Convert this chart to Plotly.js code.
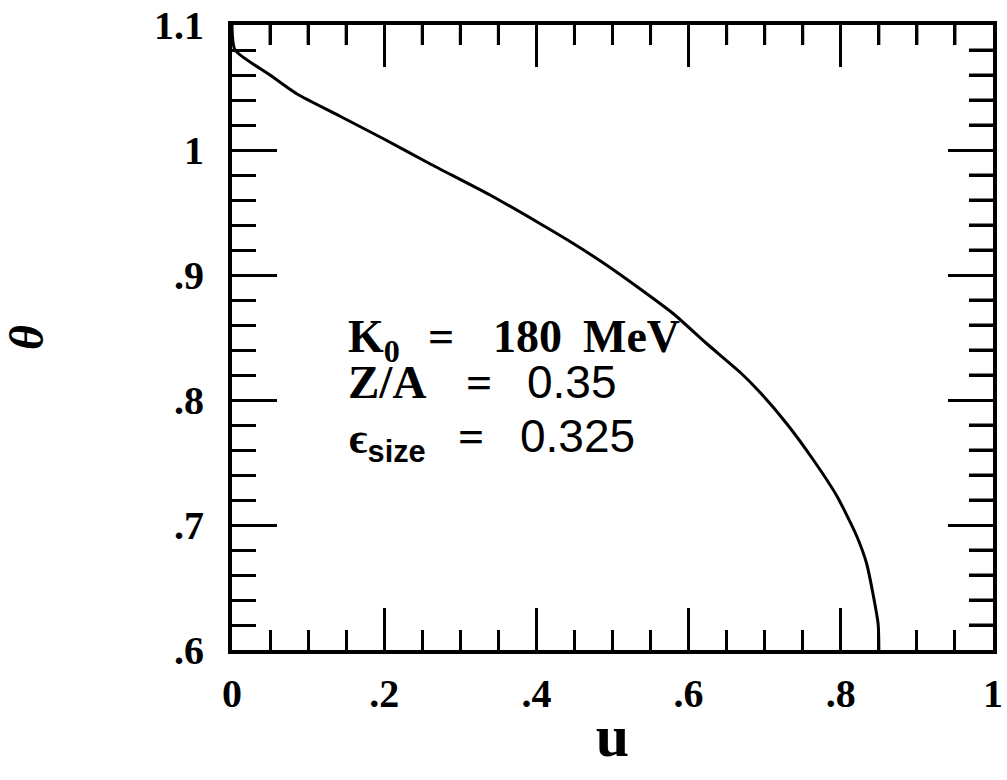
<!DOCTYPE html>
<html>
<head>
<meta charset="utf-8">
<script src="https://cdn.plot.ly/plotly-3.0.1.min.js"></script>
<style>
  html, body { margin: 0; padding: 0; background: #fff; }
  #chart { width: 1007px; height: 780px; }
</style>
</head>
<body>
<div id="chart"></div>
<script>
// Curve theta(u)
const u = [0, 0.004, 0.05, 0.085, 0.142, 0.199, 0.26, 0.339, 0.405, 0.449,
           0.492, 0.536, 0.58, 0.624, 0.668, 0.694, 0.729, 0.764, 0.795,
           0.821, 0.834, 0.849, 0.850];
const theta = [1.1, 1.08, 1.06, 1.045, 1.027, 1.009, 0.989, 0.964, 0.941, 0.925,
               0.908, 0.889, 0.869, 0.845, 0.822, 0.806, 0.781, 0.752, 0.723,
               0.691, 0.669, 0.621, 0.6];

// Tick label text
const uTickText = {'0.2': '.2', '0.4': '.4', '0.6': '.6', '0.8': '.8'};
const thetaTickText = {'0.6': '.6', '0.7': '.7', '0.8': '.8', '0.9': '.9'};

// Parameter labels
const paramLabels = [
  ['K<sub>0</sub>', '=', '180', 'MeV'],
  ['Z/A', '=', '0.35'],
  ['<b>\u03f5</b><sub><span style="font-family:Liberation Sans, Arial, sans-serif;font-weight:bold">size</span></sub>', '=', '0.325']
];

const serif = 'Liberation Serif, Times New Roman, serif';
const sans = 'Liberation Sans, Arial, sans-serif';

// Frame in pixels and pixel-to-data helpers for placing text inside it
const L = 232, R = 993, T = 25, B = 650;
const px2u = px => (px - L) / (R - L);
const py2t = py => 1.1 - 0.5 * (py - T) / (B - T);

function label(text, px, py, family, size, weight) {
  return {
    text: text, x: px2u(px), y: py2t(py), xref: 'x', yref: 'y',
    xanchor: 'left', yanchor: 'middle', showarrow: false,
    font: {family: family, size: size, color: '#000', weight: weight}
  };
}

const annotations = [
  label(paramLabels[0][0], 346, 340, serif, 46, 'bold'),
  label(paramLabels[0][1], 426, 336, serif, 46, 'bold'),
  label(paramLabels[0][2], 491, 336, serif, 46, 'bold'),
  label(paramLabels[0][3], 581, 336, serif, 46, 'bold'),
  label(paramLabels[1][0], 346, 382, serif, 47, 'bold'),
  label(paramLabels[1][1], 464, 382, serif, 46, 'bold'),
  label(paramLabels[1][2], 525, 382, sans, 46, 'normal'),
  label(paramLabels[2][0], 347, 441, serif, 44, 'normal'),
  label(paramLabels[2][1], 456, 436, serif, 46, 'bold'),
  label(paramLabels[2][2], 518, 436, sans, 46, 'normal')
];

// Tick spacing
const X_MAJOR = 0.2, X_MINOR = 0.05, X_MINOR_LEN = 20;
const Y_MAJOR = 0.1, Y_MINOR = 0.02, Y_MINOR_LEN = 24;

// Minor ticks on the top and right edges (major ones come from axis mirroring)
const shapes = [];
const tickLine = {color: '#000', width: 3};
for (let k = 1; k < Math.round(1 / X_MINOR); k++) {
  if (k % Math.round(X_MAJOR / X_MINOR) === 0) continue;
  const v = k * X_MINOR;
  shapes.push({type: 'line', xref: 'x', yref: 'y domain', x0: v, x1: v,
               y0: 1, y1: 1 - X_MINOR_LEN / (B - T), line: tickLine});
}
for (let k = 1; k < Math.round(0.5 / Y_MINOR); k++) {
  if (k % Math.round(Y_MAJOR / Y_MINOR) === 0) continue;
  const v = 0.6 + k * Y_MINOR;
  shapes.push({type: 'line', xref: 'x domain', yref: 'y', x0: 1, x1: 1 - Y_MINOR_LEN / (R - L),
               y0: v, y1: v, line: tickLine});
}

const tickFont = {family: serif, size: 40, color: '#000', weight: 'bold'};

const layout = {
  width: 1007, height: 780,
  margin: {l: L, r: 1007 - R, t: T, b: 780 - B},
  paper_bgcolor: '#fff', plot_bgcolor: '#fff',
  showlegend: false,
  xaxis: {
    range: [0, 1], tick0: 0, dtick: X_MAJOR, ticks: 'inside', ticklen: 42, tickwidth: 3, tickcolor: '#000',
    minor: {ticks: 'inside', ticklen: X_MINOR_LEN, tickwidth: 3, tickcolor: '#000', dtick: X_MINOR, showgrid: false},
    showline: true, linewidth: 4, linecolor: '#000', mirror: 'ticks',
    showgrid: false, zeroline: false,
    tickfont: tickFont, labelalias: uTickText, ticklabelstandoff: 5,
    title: {text: 'u', font: {family: serif, size: 60, color: '#000', weight: 'bold'}, standoff: 0}
  },
  yaxis: {
    range: [0.6, 1.1], tick0: 0.6, dtick: Y_MAJOR, ticks: 'inside', ticklen: 45, tickwidth: 3, tickcolor: '#000',
    minor: {ticks: 'inside', ticklen: Y_MINOR_LEN, tickwidth: 3, tickcolor: '#000', dtick: Y_MINOR, showgrid: false},
    showline: true, linewidth: 4, linecolor: '#000', mirror: 'ticks',
    showgrid: false, zeroline: false,
    tickfont: tickFont, labelalias: thetaTickText, ticklabelstandoff: 16,
    title: {text: '<i>\u03b8</i>', font: {family: serif, size: 48, color: '#000', weight: 'bold'}, standoff: 114}
  },
  shapes: shapes,
  annotations: annotations
};

const trace = {
  x: u, y: theta, type: 'scatter', mode: 'lines',
  line: {color: '#000', width: 3, shape: 'spline', smoothing: 0.6},
  hoverinfo: 'skip'
};

Plotly.newPlot('chart', [trace], layout, {staticPlot: true, displayModeBar: false});
</script>
</body>
</html>
